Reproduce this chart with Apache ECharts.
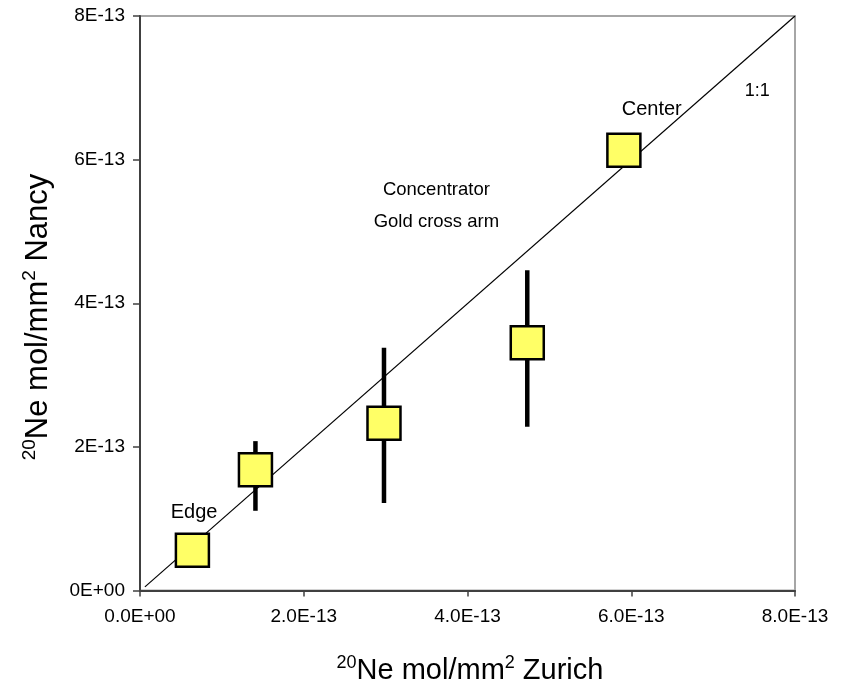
<!DOCTYPE html>
<html>
<head>
<meta charset="utf-8">
<script src="https://cdn.jsdelivr.net/npm/echarts@6/dist/echarts.min.js"></script>
<style>
  html, body { margin: 0; padding: 0; background: #fff; }
  #chart { width: 845px; height: 694px; }
</style>
</head>
<body>
<div id="chart"></div>
<script>
// 20Ne amounts (mol/mm2) measured in Zurich and Nancy
const zurich = [0.64e-13, 1.41e-13, 2.98e-13, 4.73e-13, 5.91e-13];
const nancy = [0.56e-13, 1.68e-13, 2.33e-13, 3.45e-13, 6.13e-13];
// Nancy uncertainty range (low / high); null where no bar is drawn
const nancyLow = [null, 1.11e-13, 1.22e-13, 2.28e-13, null];
const nancyHigh = [null, 2.08e-13, 3.38e-13, 4.46e-13, null];

// 1:1 reference line end points
const oneToOneX = [0.06e-13, 8e-13];
const oneToOneY = [0.05e-13, 8e-13];

// Axis tick labels
const xTickLabels = ['0.0E+00', '2.0E-13', '4.0E-13', '6.0E-13', '8.0E-13'];
const yTickLabels = ['0E+00', '2E-13', '4E-13', '6E-13', '8E-13'];
const tickStep = 2e-13;

// Text annotations: [x, y, text, font size]
const notes = [
  [0.66e-13, 1.09e-13, 'Edge', 20],
  [6.25e-13, 6.70e-13, 'Center', 20],
  [7.54e-13, 6.95e-13, '1:1', 18],
  [3.62e-13, 5.36e-13, 'Concentrator\nGold cross arm', 18.5]
];

const FONT = '"Liberation Sans", Arial, sans-serif';
const tickIndex = v => Math.round(v / tickStep);

const chart = echarts.init(document.getElementById('chart'), null, { renderer: 'canvas' });

const errData = zurich.map((x, i) => [x, nancyLow[i], nancyHigh[i]]).filter(d => d[1] != null);

const axisTitles = [
  {
    type: 'text', x: 470, y: 671,
    style: {
      text: '{s|20}{b|Ne mol/mm}{s|2}{b| Zurich}',
      fill: '#000', align: 'center', verticalAlign: 'middle',
      rich: {
        b: { fontFamily: FONT, fontSize: 29, lineHeight: 34, verticalAlign: 'middle' },
        s: { fontFamily: FONT, fontSize: 18, lineHeight: 22, verticalAlign: 'top' }
      }
    }
  },
  {
    type: 'text', x: 38, y: 317, rotation: Math.PI / 2,
    style: {
      text: '{s|20}{b|Ne mol/mm}{s|2}{b| Nancy}',
      fill: '#000', align: 'center', verticalAlign: 'middle',
      rich: {
        b: { fontFamily: FONT, fontSize: 31, lineHeight: 36, verticalAlign: 'middle' },
        s: { fontFamily: FONT, fontSize: 19, lineHeight: 23, verticalAlign: 'top' }
      }
    }
  }
];

chart.setOption({
  animation: false,
  backgroundColor: '#ffffff',
  grid: {
    left: 140, top: 16, width: 655, height: 574.5,
    show: true, borderColor: '#a6a6a6', borderWidth: 2, backgroundColor: 'transparent'
  },
  xAxis: {
    type: 'value', min: 0, max: 8e-13, interval: tickStep,
    axisLine: { show: true, onZero: false, lineStyle: { color: '#404040', width: 2 } },
    axisTick: { show: true, inside: false, length: 6, lineStyle: { color: '#404040', width: 1.5 } },
    axisLabel: {
      margin: 17, color: '#000', fontFamily: FONT, fontSize: 19,
      formatter: v => xTickLabels[tickIndex(v)]
    },
    splitLine: { show: false }
  },
  yAxis: {
    type: 'value', min: 0, max: 8e-13, interval: tickStep,
    axisLine: { show: true, onZero: false, lineStyle: { color: '#404040', width: 2 } },
    axisTick: { show: true, inside: false, length: 7, lineStyle: { color: '#404040', width: 1.5 } },
    axisLabel: {
      margin: 15, color: '#000', fontFamily: FONT, fontSize: 19,
      formatter: v => yTickLabels[tickIndex(v)]
    },
    splitLine: { show: false }
  },
  graphic: axisTitles,
  series: [
    {
      name: '1:1',
      type: 'line',
      data: oneToOneX.map((x, i) => [x, oneToOneY[i]]),
      showSymbol: false, symbol: 'none',
      lineStyle: { color: '#000', width: 1.2 },
      z: 2, silent: true
    },
    {
      name: 'Nancy range',
      type: 'custom',
      data: errData,
      renderItem: (params, api) => {
        const x = api.value(0);
        const lo = api.coord([x, api.value(1)]);
        const hi = api.coord([x, api.value(2)]);
        return {
          type: 'line',
          shape: { x1: lo[0], y1: lo[1], x2: hi[0], y2: hi[1] },
          style: { stroke: '#000', lineWidth: 4.5 }
        };
      },
      z: 3, silent: true
    },
    {
      name: 'Ne',
      type: 'scatter',
      data: zurich.map((x, i) => [x, nancy[i]]),
      symbol: 'rect', symbolSize: 33,
      itemStyle: { color: '#ffff66', borderColor: '#000', borderWidth: 2.5, opacity: 1 },
      z: 4
    }
  ]
});

// Place the annotations through the grid's own coordinate conversion
const noteGraphics = notes.map(n => {
  const p = chart.convertToPixel({ gridIndex: 0 }, [n[0], n[1]]);
  return {
    type: 'text', x: p[0], y: p[1], z: 10,
    style: {
      text: n[2], fill: '#000', font: n[3] + 'px ' + FONT,
      align: 'center', verticalAlign: 'middle', lineHeight: 32
    }
  };
});
chart.setOption({ graphic: axisTitles.concat(noteGraphics) });
</script>
</body>
</html>
